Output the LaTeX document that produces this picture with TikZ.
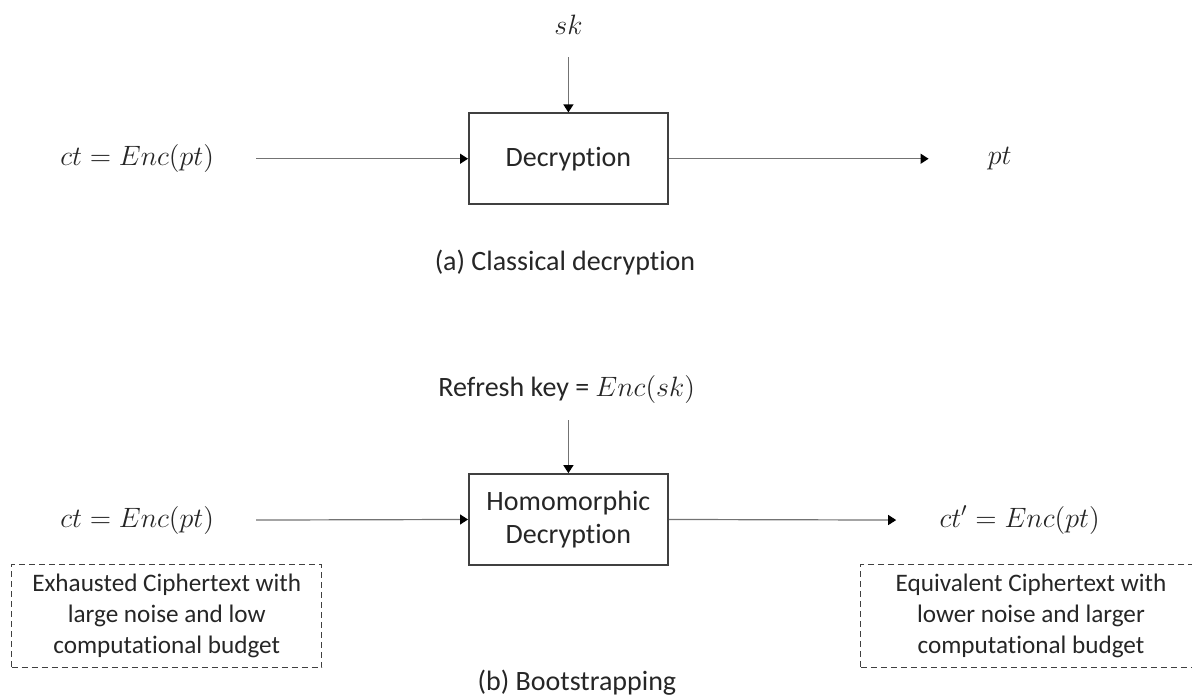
\RequirePackage{fix-cm}
\documentclass[tikz,border=0pt]{standalone}
\usepackage{amsmath}
\usepackage{fontspec}
\setmainfont{Carlito}[Ligatures={NoCommon,NoContextual}]
\usetikzlibrary{arrows.meta,positioning,calc}
\begin{document}
\begin{tikzpicture}[
  font=\fontsize{14}{16.5}\selectfont,
  text=black!85,
  box/.style={draw=black!75, line width=0.8pt, minimum width=3.5cm, minimum height=1.6cm, align=center, inner sep=2pt},
  note/.style={draw=black!75, densely dashed, line width=0.5pt, align=center, minimum height=1.81cm, font=\fontsize{12.6}{15.5}\selectfont},
  lab/.style={inner sep=1pt},
  arr/.style={-{Triangle[length=4pt,width=5pt,black]}, draw=black!55, line width=0.6pt}
]
\useasboundingbox[clip] (0,0) rectangle (20.95,-12.27);

% ---------- (a) Classical decryption ----------
\node[box] (dec) at (9.99,-2.79) {Decryption};
\node[lab] (sk) at (9.99,-0.44) {$sk$};
\node[lab] (ct) at (2.41,-2.79) {$ct = Enc(pt)$};
\node[lab] (pt) at (17.57,-2.79) {$pt$};
\draw[arr] ([yshift=-0.35cm]sk.south) -- (dec.north);
\draw[arr] ([xshift=0.7cm]ct.east) -- (dec.west);
\draw[arr] (dec.east) -- ([xshift=-1.0cm]pt.west);
\node[lab] (capa) at (9.93,-4.62) {(a) Classical decryption};

% ---------- (b) Bootstrapping ----------
\node[box] (hom) at (9.99,-9.13) {Homomorphic\\Decryption};
\node[lab] (rk) at (9.96,-6.85) {Refresh key = $Enc(sk)$};
\node[lab] (ct2) at (2.41,-9.14) {$ct = Enc(pt)$};
\node[lab] (ct3) at (17.92,-9.14) {$ct' = Enc(pt)$};
\draw[arr] ([yshift=-0.25cm]rk.south -| hom.north) -- (hom.north);
\draw[arr] ([xshift=0.7cm]ct2.east) -- (hom.west);
\draw[arr] (hom.east) -- ([xshift=-0.72cm]ct3.west);

% ---------- Ciphertext notes ----------
\node[note, minimum width=5.45cm] (exh) at (2.93,-10.83)
  {Exhausted Ciphertext with\\large noise and low\\computational budget};
\node[note, minimum width=5.98cm] (equ) at (18.12,-10.83)
  {Equivalent Ciphertext with\\lower noise and larger\\computational budget};
\node[lab] (capb) at (10.14,-12.0) {(b) Bootstrapping};
\end{tikzpicture}
\end{document}
